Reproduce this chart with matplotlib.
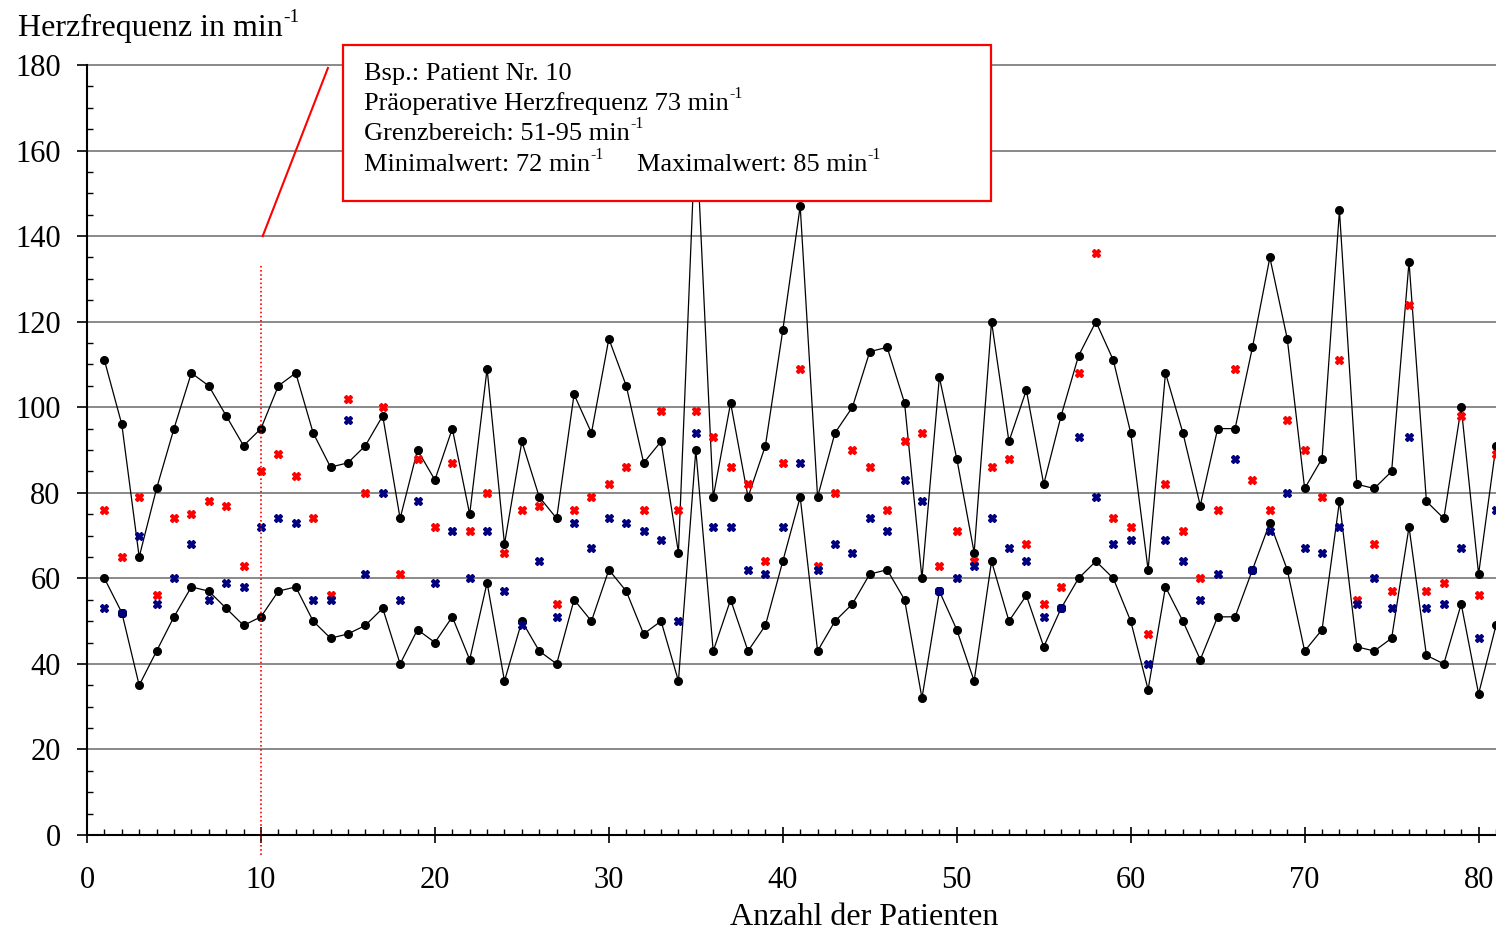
import matplotlib
matplotlib.use("Agg")
import matplotlib.pyplot as plt
from matplotlib.ticker import MultipleLocator
from matplotlib.patches import Rectangle

plt.rcParams['font.family'] = ['Liberation Serif', 'DejaVu Serif']

patients = list(range(1, 82))
upper = [111, 96, 65, 81, 95, 108, 105, 98, 91, 95,
         105, 108, 94, 86, 87, 91, 98, 74, 90, 83,
         95, 75, 109, 68, 92, 79, 74, 103, 94, 116,
         105, 87, 92, 66, 166, 79, 101, 79, 91, 118,
         147, 79, 94, 100, 113, 114, 101, 60, 107, 88,
         66, 120, 92, 104, 82, 98, 112, 120, 111, 94,
         62, 108, 94, 77, 95, 95, 114, 135, 116, 81,
         88, 146, 82, 81, 85, 134, 78, 74, 100, 61, 91]
lower = [60, 52, 35, 43, 51, 58, 57, 53, 49, 51,
         57, 58, 50, 46, 47, 49, 53, 40, 48, 45,
         51, 41, 59, 36, 50, 43, 40, 55, 50, 62,
         57, 47, 50, 36, 90, 43, 55, 43, 49, 64,
         79, 43, 50, 54, 61, 62, 55, 32, 57, 48,
         36, 64, 50, 56, 44, 53, 60, 64, 60, 50,
         34, 58, 50, 41, 51, 51, 62, 73, 62, 43,
         48, 78, 44, 43, 46, 72, 42, 40, 54, 33, 49]
max_vals = [76, 65, 79, 56, 74, 75, 78, 77, 63, 85,
            89, 84, 74, 56, 102, 80, 100, 61, 88, 72,
            87, 71, 80, 66, 76, 77, 54, 76, 79, 82,
            86, 76, 99, 76, 99, 93, 86, 82, 64, 87,
            109, 63, 80, 90, 86, 76, 92, 94, 63, 71,
            64, 86, 88, 68, 54, 58, 108, 136, 74, 72,
            47, 82, 71, 60, 76, 109, 83, 76, 97, 90,
            79, 111, 55, 68, 57, 124, 57, 59, 98, 56, 89]
min_vals = [53, 52, 70, 54, 60, 68, 55, 59, 58, 72,
            74, 73, 55, 55, 97, 61, 80, 55, 78, 59,
            71, 60, 71, 57, 49, 64, 51, 73, 67, 74,
            73, 71, 69, 50, 94, 72, 72, 62, 61, 72,
            87, 62, 68, 66, 74, 71, 83, 78, 57, 60,
            63, 74, 67, 64, 51, 53, 93, 79, 68, 69,
            40, 69, 64, 55, 61, 88, 62, 71, 80, 67,
            66, 72, 54, 60, 53, 93, 53, 54, 67, 46, 76]

x_ticks = [0, 10, 20, 30, 40, 50, 60, 70, 80]
y_ticks = [0, 20, 40, 60, 80, 100, 120, 140, 160, 180]

W, H = 1496, 932
DPI = 100
fig = plt.figure(figsize=(W / DPI, H / DPI), dpi=DPI)
ax = fig.add_axes([87 / W, 97 / H, 1409 / W, 770 / H])
ax.set_xlim(0, 81)
ax.set_ylim(0, 180)
renderer = fig.canvas.get_renderer()


def text_sup(x, y, base, sup, fontsize, transform, zorder=8):
    t = ax.text(x, y, base, fontsize=fontsize, ha='left', va='baseline',
                transform=transform, zorder=zorder, clip_on=False)
    bb = t.get_window_extent(renderer)
    w_pt = bb.width * 72.0 / DPI
    ax.annotate(sup, xy=(x, y), xycoords=transform,
                xytext=(w_pt + 0.5, fontsize * 0.45), textcoords='offset points',
                fontsize=fontsize * 0.6, ha='left', va='baseline',
                zorder=zorder, annotation_clip=False)
    return t


ax.set_axisbelow(True)
ax.yaxis.grid(True, color='#808080', lw=1.3)
for s in ['top', 'right']:
    ax.spines[s].set_visible(False)
for s in ['left', 'bottom']:
    ax.spines[s].set_color('black')
    ax.spines[s].set_linewidth(1.5)

ax.set_xticks(x_ticks)
ax.set_yticks(y_ticks)
ax.xaxis.set_minor_locator(MultipleLocator(1))
ax.yaxis.set_minor_locator(MultipleLocator(5))
ax.tick_params(axis='x', which='major', direction='inout', length=11, width=1.2,
               labelsize=22, pad=17)
ax.tick_params(axis='y', which='major', direction='out', length=7, width=1.2,
               labelsize=22, pad=12)
ax.tick_params(which='minor', direction='in', length=4, width=1.0)
for gl in ax.get_ygridlines():
    gl.set_clip_on(False)

ax.plot(patients, upper, color='black', lw=0.9, marker='o', ms=5.5, zorder=3)
ax.plot(patients, lower, color='black', lw=0.9, marker='o', ms=5.5, zorder=3)
ax.plot(patients, max_vals, ls='none', marker='X', ms=6, color='#FF0000', zorder=4)
ax.plot(patients, min_vals, ls='none', marker='X', ms=6, color='#000080', zorder=5)

# highlighted example patient
ax.plot([10, 10], [-4.7, 133.2], color='#FF0000', lw=1.2, ls=(0, (1, 1.5)),
        clip_on=False, zorder=6)
ax.plot([10.1, 13.85], [140, 179.3], color='#FF0000', lw=1.5, clip_on=False, zorder=6)

box = Rectangle((14.71, 148.2), 51.95 - 14.71, 184.7 - 148.2, facecolor='white',
                edgecolor='#FF0000', lw=1.6, clip_on=False, zorder=7)
ax.add_patch(box)
tx = 15.92
fs_box = 19
td = ax.transData
ax.text(tx, 176.6, 'Bsp.: Patient Nr. 10', fontsize=fs_box, va='baseline',
        ha='left', zorder=8, clip_on=False)
text_sup(tx, 169.5, 'Präoperative Herzfrequenz 73 min', '-1', fs_box, td)
text_sup(tx, 162.4, 'Grenzbereich: 51-95 min', '-1', fs_box, td)
text_sup(tx, 155.2, 'Minimalwert: 72 min', '-1', fs_box, td)
text_sup(31.6, 155.2, 'Maximalwert: 85 min', '-1', fs_box, td)

text_sup(18 / W, 1 - 36 / H, 'Herzfrequenz in min', '-1', 23, fig.transFigure)
fig.text(864 / W, 1 - 925 / H, 'Anzahl der Patienten', fontsize=23,
         ha='center', va='baseline')

fig.savefig('out.png', dpi=DPI)
